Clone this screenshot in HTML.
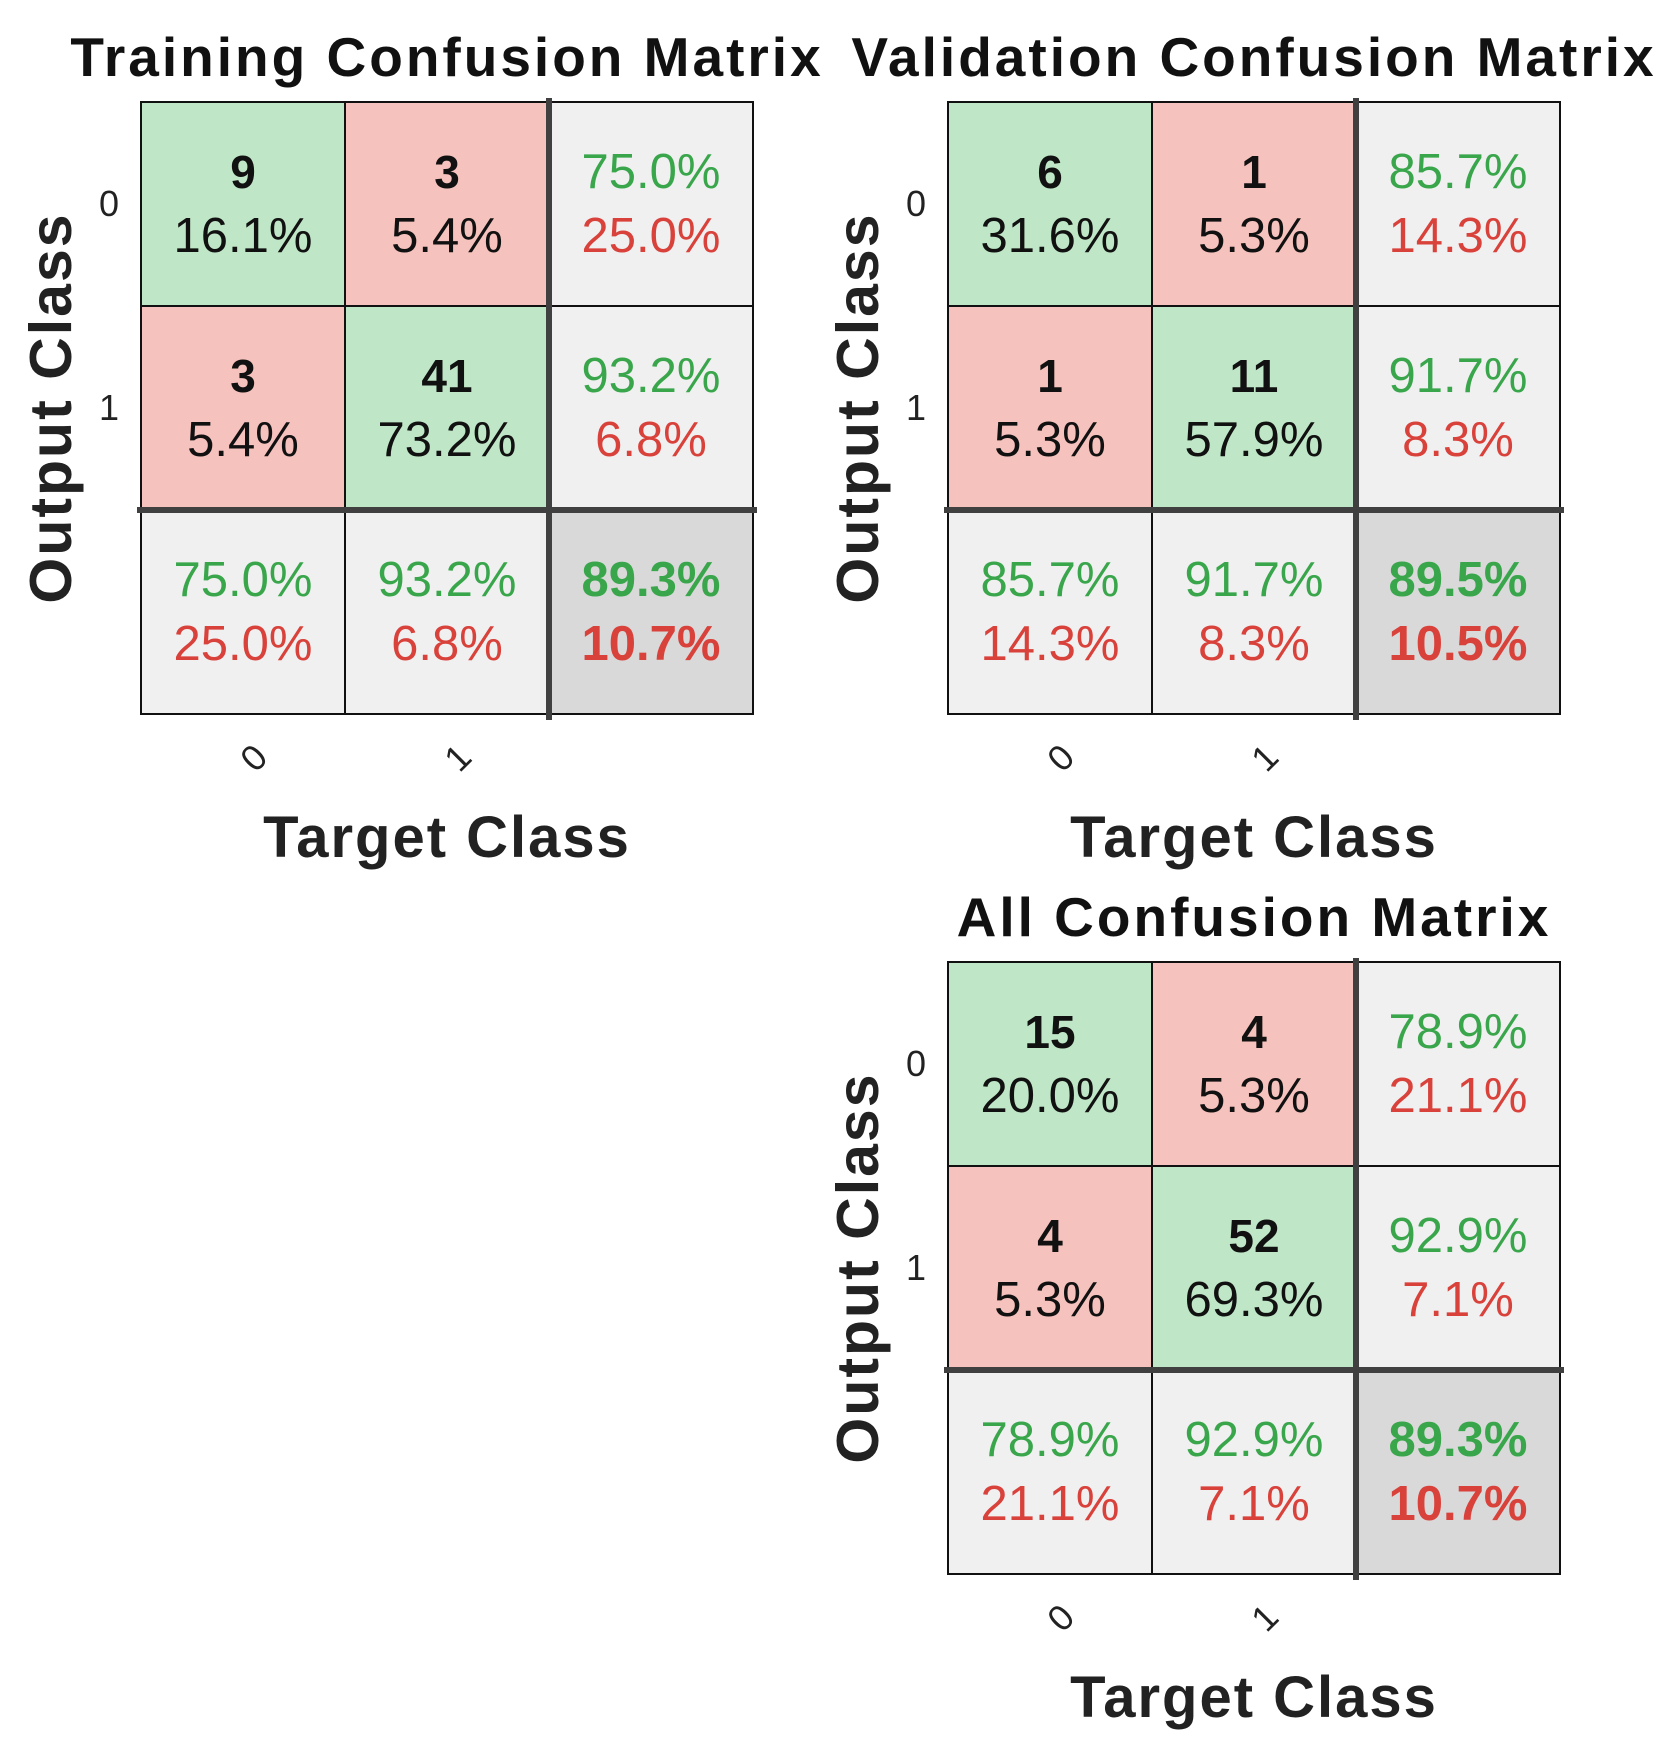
<!DOCTYPE html>
<html><head><meta charset="utf-8"><style>
html,body{margin:0;padding:0;background:#fff;}
svg{display:block;font-family:"Liberation Sans",Arial,sans-serif;}
</style></head><body>
<svg id="fig" width="1672" height="1757" viewBox="0 0 1672 1757" xmlns="http://www.w3.org/2000/svg"></svg>
<script>
// Data
const classLabels = ["0", "1"];
const matrixTitles = ["Training Confusion Matrix", "Validation Confusion Matrix", "All Confusion Matrix"];
const trainingCounts = [[9, 3], [3, 41]];
const validationCounts = [[6, 1], [1, 11]];
const allCounts = [[15, 4], [4, 52]];

const svg = document.getElementById('fig');
const NS = 'http://www.w3.org/2000/svg';
const CELL = 204;
const GREEN_BG = '#bfe6c6', RED_BG = '#f6c2bd', GRAY_BG = '#f0f0f0', DARK_BG = '#d9d9d9';
const GREEN_TX = '#3aa64c', RED_TX = '#d9413b';

function mk(tag, attrs, parent) {
  const e = document.createElementNS(NS, tag);
  for (const k in attrs) e.setAttribute(k, attrs[k]);
  (parent || svg).appendChild(e);
  return e;
}
function txt(x, y, s, size, weight, fill, parent, extra) {
  const t = mk('text', Object.assign({x: x, y: y, 'font-size': size, 'font-weight': weight, fill: fill, 'text-anchor': 'middle'}, extra || {}), parent);
  t.textContent = s;
  return t;
}
function pct(v) { return (v * 100).toFixed(1) + '%'; }

function drawMatrix(counts, title, x0, y0, key) {
  const g = mk('g', {});
  
  
  const n = classLabels.length;
  let total = 0;
  for (let i = 0; i < n; i++) for (let j = 0; j < n; j++) total += counts[i][j];
  const cx = x0 + CELL * (n + 1) / 2;
  const ttl = txt(cx, y0 - 26, title, 55, 'bold', '#111', g, {'letter-spacing': 3});
  
  

  for (let i = 0; i <= n; i++) {
    for (let j = 0; j <= n; j++) {
      const x = x0 + j * CELL, y = y0 + i * CELL;
      let bg;
      if (i < n && j < n) bg = (i === j) ? GREEN_BG : RED_BG;
      else if (i === n && j === n) bg = DARK_BG;
      else bg = GRAY_BG;
      const r = mk('rect', {x: x, y: y, width: CELL, height: CELL, fill: bg, stroke: '#111', 'stroke-width': 2}, g);
      
      
      const ccx = x + CELL / 2, ccy = y + CELL / 2;
      if (i < n && j < n) {
        txt(ccx, ccy - 16, String(counts[i][j]), 46, 'bold', '#111', g);
        txt(ccx, ccy + 48, pct(counts[i][j] / total), 49, 'normal', '#111', g);
      } else {
        let good, sum;
        if (i < n && j === n) { good = counts[i][i]; sum = counts[i].reduce((a, b) => a + b, 0); }
        else if (i === n && j < n) { good = counts[j][j]; sum = 0; for (let k = 0; k < n; k++) sum += counts[k][j]; }
        else { good = 0; for (let k = 0; k < n; k++) good += counts[k][k]; sum = total; }
        const acc = sum ? good / sum : 0;
        const w = (i === n && j === n) ? 'bold' : 'normal';
        txt(ccx, ccy - 16, pct(acc), 49, w, GREEN_TX, g);
        txt(ccx, ccy + 48, pct(1 - acc), 49, w, RED_TX, g);
      }
    }
  }
  mk('line', {x1: x0 + n * CELL, y1: y0 - 4, x2: x0 + n * CELL, y2: y0 + (n + 1) * CELL + 6, stroke: '#404040', 'stroke-width': 6}, g);
  mk('line', {x1: x0 - 4, y1: y0 + n * CELL, x2: x0 + (n + 1) * CELL + 4, y2: y0 + n * CELL, stroke: '#404040', 'stroke-width': 6}, g);

  for (let i = 0; i < n; i++) {
    const t = txt(x0 - 32, y0 + i * CELL + CELL / 2 + 12, classLabels[i], 36, 'normal', '#222', g);
    
    
  }
  for (let j = 0; j < n; j++) {
    const tx = x0 + j * CELL + CELL / 2 + 11, ty = y0 + (n + 1) * CELL + 44;
    const t = txt(tx, ty + 12, classLabels[j], 36, 'normal', '#222', g, {transform: 'rotate(-45 ' + tx + ' ' + ty + ')'});
    
    
  }
  const xt = txt(cx, y0 + (n + 1) * CELL + 143, 'Target Class', 58, 'bold', '#222', g, {'letter-spacing': 2});
  
  
  const yx = x0 - 91, yy = y0 + (n + 1) * CELL / 2;
  const yt = txt(yx, yy + 21, 'Output Class', 59, 'bold', '#222', g, {transform: 'rotate(-90 ' + yx + ' ' + yy + ')', 'letter-spacing': 2});
  
  
}

drawMatrix(trainingCounts, matrixTitles[0], 141, 102, 'training');
drawMatrix(validationCounts, matrixTitles[1], 948, 102, 'validation');
drawMatrix(allCounts, matrixTitles[2], 948, 962, 'all');
</script>
</body></html>
